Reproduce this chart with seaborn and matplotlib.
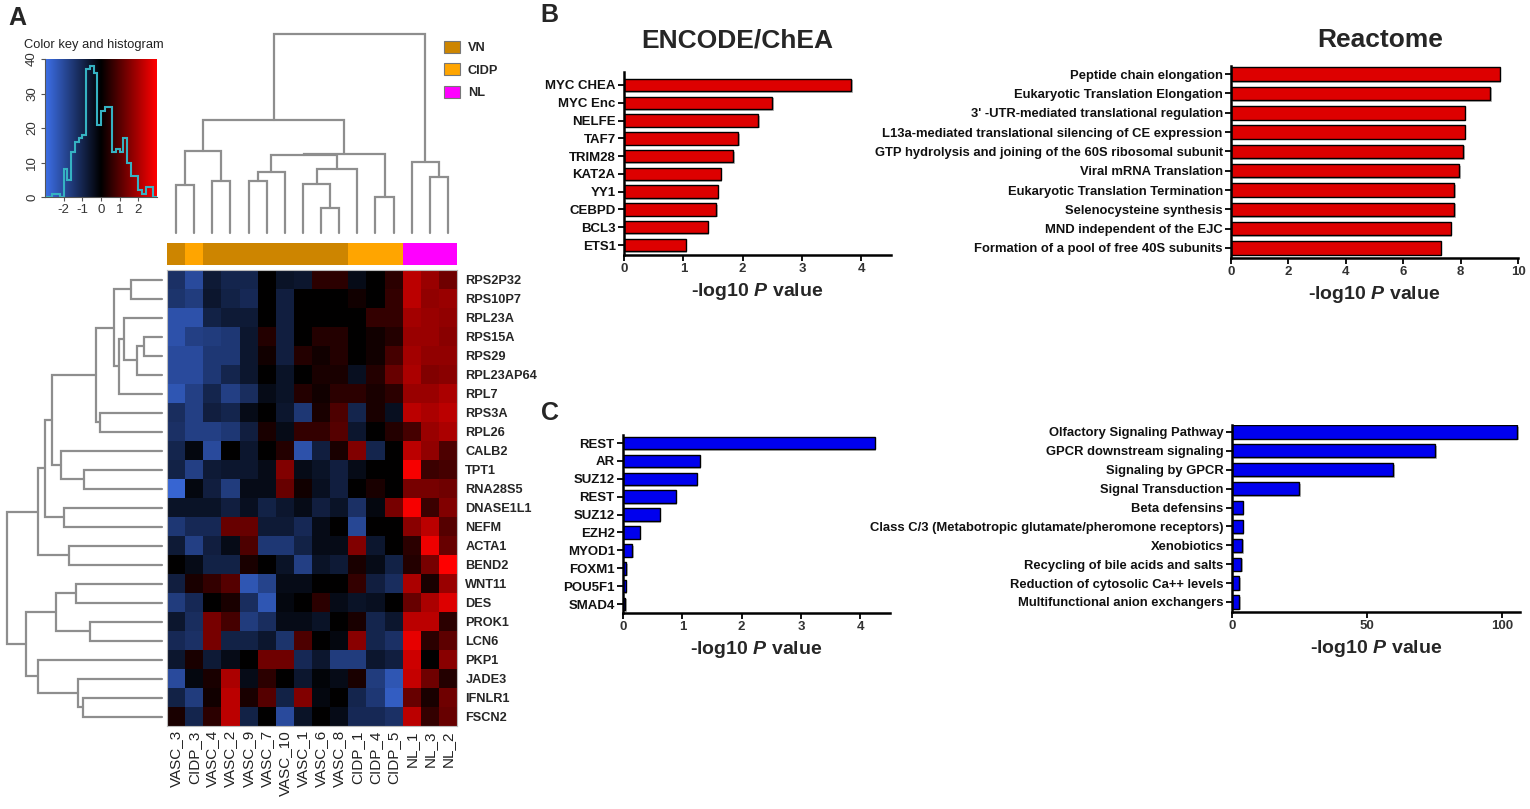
import numpy as np
import pandas as pd
import matplotlib
matplotlib.use("Agg")
import matplotlib.pyplot as plt
import matplotlib.patheffects as pe
from matplotlib.colors import LinearSegmentedColormap, ListedColormap
from matplotlib.patches import Patch
import seaborn as sns

# ---------------- data ----------------
genes = ["RPS2P32", "RPS10P7", "RPL23A", "RPS15A", "RPS29", "RPL23AP64", "RPL7",
         "RPS3A", "RPL26", "CALB2", "TPT1", "RNA28S5", "DNASE1L1", "NEFM", "ACTA1",
         "BEND2", "WNT11", "DES", "PROK1", "LCN6", "PKP1", "JADE3", "IFNLR1", "FSCN2"]
samples = ["VASC_3", "CIDP_3", "VASC_4", "VASC_2", "VASC_9", "VASC_7", "VASC_10",
           "VASC_1", "VASC_6", "VASC_8", "CIDP_1", "CIDP_4", "CIDP_5", "NL_1", "NL_3", "NL_2"]
sample_groups = ["VN", "CIDP", "VN", "VN", "VN", "VN", "VN", "VN", "VN", "VN",
                 "CIDP", "CIDP", "CIDP", "NL", "NL", "NL"]
group_names = ["VN", "CIDP", "NL"]
group_colors = ["#CD8500", "#FFA500", "#FF00FF"]

expr = [
    [-1.3, -2.0, -0.7, -1.0, -1.0, 0.0, -0.5, -0.6, 0.5, 0.5, -0.3, 0.0, 0.5, 2.2, 1.8, 1.3],
    [-1.4, -1.6, -0.6, -0.9, -1.1, 0.0, -0.8, 0.0, 0.0, 0.0, 0.2, 0.0, 0.6, 2.2, 1.7, 1.8],
    [-2.2, -2.2, -0.9, -0.7, -0.7, 0.0, -0.8, 0.0, 0.0, 0.0, 0.0, 0.6, 0.6, 1.9, 1.8, 1.7],
    [-2.2, -1.7, -1.6, -1.5, -0.6, 0.4, -0.8, 0.0, 0.4, 0.4, 0.0, 0.2, 0.4, 1.8, 1.8, 1.6],
    [-2.0, -2.0, -1.5, -1.5, -0.6, 0.2, -0.8, 0.4, 0.2, 0.4, 0.0, 0.2, 0.8, 1.9, 1.7, 1.7],
    [-2.0, -2.0, -1.5, -1.0, -0.6, 0.0, -0.5, 0.0, 0.3, 0.3, -0.4, 0.4, 1.2, 2.0, 1.5, 1.6],
    [-2.3, -1.7, -1.0, -1.7, -1.2, -0.3, -0.5, 0.4, 0.2, 0.5, 0.5, 0.3, 0.5, 1.8, 1.8, 2.0],
    [-1.2, -1.7, -0.8, -1.0, -0.3, 0.0, -0.6, -1.5, 0.3, 0.9, -1.0, 0.3, -0.4, 2.2, 2.0, 2.2],
    [-1.3, -1.7, -1.7, -1.5, -0.8, 0.3, -0.3, 0.6, 0.6, 1.0, -0.6, 0.0, 0.4, 0.8, 1.8, 2.0],
    [-1.0, -0.2, -2.0, 0.0, -0.6, 0.0, 0.4, -2.2, -0.8, 0.3, 1.5, -1.0, 0.0, 2.2, 1.7, 0.9],
    [-0.9, -1.7, -0.7, -0.6, -0.6, -0.3, 1.5, -0.3, -0.5, -0.8, -0.3, 0.0, 0.0, 2.9, 0.7, 0.8],
    [-2.7, -0.2, -0.8, -1.6, -0.3, -0.3, 1.2, 0.2, -0.4, -0.8, 0.0, 0.3, 0.0, 1.4, 1.4, 1.3],
    [-0.5, -0.5, -0.5, -0.8, -0.4, -0.9, -0.6, -0.3, -0.8, -0.5, -1.3, -0.2, 1.4, 2.9, 0.7, 1.5],
    [-1.5, -1.1, -1.1, 1.2, 1.2, -0.7, -0.7, -1.1, -0.3, 0.0, -1.9, 0.0, 0.0, 1.6, 2.2, 1.0],
    [-0.7, -1.7, -0.8, -0.3, 0.9, -1.5, -1.5, -0.9, -0.3, -0.3, 1.5, -0.6, 0.0, 0.5, 2.8, 1.2],
    [0.0, -0.3, -0.9, -0.9, 0.3, 0.0, -0.5, -1.7, -0.5, -0.7, 0.3, -0.3, -0.9, 0.4, 1.4, 3.0],
    [-0.8, 0.3, 0.6, 1.0, -2.3, -1.8, -0.3, -0.3, 0.0, 0.0, 0.6, -0.8, -1.2, 2.0, 0.3, 1.8],
    [-1.6, -1.1, 0.0, 0.3, -1.2, -2.3, -0.2, 0.0, 0.5, -0.3, -0.5, -0.4, 0.0, 1.2, 2.0, 2.6],
    [-0.6, -1.2, 1.4, 0.8, -1.6, -1.2, -0.3, -0.3, -0.5, 0.0, 0.3, -1.0, -0.6, 2.2, 2.2, 0.5],
    [-1.1, -1.3, 1.4, -0.9, -0.9, -0.6, -1.4, 0.9, 0.0, -0.2, 1.6, -1.0, -1.3, 2.7, 0.5, 1.1],
    [-0.6, 0.3, -0.7, -0.3, 0.0, 1.3, 1.3, -1.1, -0.6, -1.6, -1.6, -0.6, -0.8, 2.4, 0.0, 1.6],
    [-2.0, -0.2, 0.3, 2.0, -0.3, 0.5, 0.0, -0.6, -0.1, -0.3, 0.3, -1.6, -2.3, 2.3, 1.3, 0.4],
    [-0.9, -1.6, 0.2, 2.2, 0.3, 1.0, -0.9, 1.5, -0.2, 0.0, -1.0, -1.5, -2.5, 1.2, 0.3, 1.3],
    [0.3, -1.0, 0.5, 2.2, -0.9, 0.0, -2.0, -0.5, 0.0, -0.3, -1.1, -1.1, -1.3, 2.2, 0.6, 1.2],
]

# colour-key histogram (bin edges -3..3 step 0.2)
hist_edges = [-3.0, -2.8, -2.6, -2.4, -2.2, -2.0, -1.8, -1.6, -1.4, -1.2, -1.0, -0.8, -0.6,
              -0.4, -0.2, 0.0, 0.2, 0.4, 0.6, 0.8, 1.0, 1.2, 1.4, 1.6, 1.8, 2.0, 2.2, 2.4,
              2.6, 2.8, 3.0]
hist_counts = [0, 0, 1, 1, 0, 8, 5, 13, 16, 17, 18, 37, 38, 36, 21, 25, 26, 26, 13, 14,
               13, 17, 10, 6, 6, 2, 1, 3, 3, 0]

# dendrogram merges: (node a, node b, height); new nodes numbered after leaves
col_merges = [(0, 1, 145), (2, 3, 155), (16, 17, 247), (4, 5, 155), (19, 6, 183),
              (8, 9, 75), (7, 21, 147), (22, 10, 193), (20, 23, 235), (11, 12, 108),
              (24, 25, 238), (18, 26, 340), (14, 15, 168), (13, 28, 213), (27, 29, 598)]
row_merges = [(0, 1, 93), (3, 4, 53), (25, 5, 75), (2, 26, 113), (27, 6, 130),
              (24, 28, 145), (7, 8, 185), (29, 30, 197), (10, 11, 235), (9, 32, 302),
              (31, 33, 330), (12, 13, 293), (34, 35, 350), (14, 15, 280), (36, 37, 372),
              (16, 17, 257), (18, 19, 217), (39, 40, 317), (22, 23, 237), (21, 42, 252),
              (20, 43, 372), (41, 44, 407), (38, 45, 465)]

encode_up_terms = ["MYC CHEA", "MYC Enc", "NELFE", "TAF7", "TRIM28", "KAT2A", "YY1",
                   "CEBPD", "BCL3", "ETS1"]
encode_up_vals = [3.83, 2.50, 2.26, 1.92, 1.84, 1.63, 1.58, 1.55, 1.41, 1.04]
reactome_up_terms = ["Peptide chain elongation", "Eukaryotic Translation Elongation",
                     "3' -UTR-mediated translational regulation",
                     "L13a-mediated translational silencing of CE expression",
                     "GTP hydrolysis and joining of the 60S ribosomal subunit",
                     "Viral mRNA Translation", "Eukaryotic Translation Termination",
                     "Selenocysteine synthesis", "MND independent of the EJC",
                     "Formation of a pool of free 40S subunits"]
reactome_up_vals = [9.36, 9.04, 8.14, 8.14, 8.09, 7.95, 7.77, 7.77, 7.65, 7.30]
encode_dn_terms = ["REST", "AR", "SUZ12", "REST", "SUZ12", "EZH2", "MYOD1", "FOXM1",
                   "POU5F1", "SMAD4"]
encode_dn_vals = [4.24, 1.29, 1.24, 0.89, 0.62, 0.28, 0.16, 0.05, 0.045, 0.04]
reactome_dn_terms = ["Olfactory Signaling Pathway", "GPCR downstream signaling",
                     "Signaling by GPCR", "Signal Transduction", "Beta defensins",
                     "Class C/3 (Metabotropic glutamate/pheromone receptors)",
                     "Xenobiotics", "Recycling of bile acids and salts",
                     "Reduction of cytosolic Ca++ levels", "Multifunctional anion exchangers"]
reactome_dn_vals = [105.5, 75.2, 59.5, 24.8, 4.0, 3.9, 3.7, 3.5, 2.7, 2.6]

# ---------------- style ----------------
W, H = 1530, 809
sns.set_theme(style="white")
plt.rcParams["font.family"] = ["Liberation Sans", "DejaVu Sans"]
plt.rcParams["axes.unicode_minus"] = False
plt.rcParams["mathtext.fontset"] = "custom"
plt.rcParams["mathtext.rm"] = "Liberation Sans:bold"
plt.rcParams["mathtext.it"] = "Liberation Sans:bold:italic"

fig = plt.figure(figsize=(W / 100, H / 100), dpi=100)
fig.patch.set_facecolor("white")


def ax_px(l, t, r, b):
    return fig.add_axes([l / W, 1 - b / H, (r - l) / W, (b - t) / H])


cmap = LinearSegmentedColormap.from_list("bkr", ["#3D6FE8", "#000000", "#FF0000"])
dgray = "#8e8e8e"


def draw_dendro(ax, merges, n, orient):
    pos = {i: i + 0.5 for i in range(n)}
    hgt = {i: 0.0 for i in range(n)}
    for k, (a, b, h) in enumerate(merges):
        xa, xb, ha, hb = pos[a], pos[b], hgt[a], hgt[b]
        if orient == "top":
            ax.plot([xa, xa, xb, xb], [ha, h, h, hb], color=dgray, lw=1.6,
                    solid_joinstyle="miter", clip_on=False)
        else:
            ax.plot([ha, h, h, hb], [xa, xa, xb, xb], color=dgray, lw=1.6,
                    solid_joinstyle="miter", clip_on=False)
        pos[n + k] = (xa + xb) / 2
        hgt[n + k] = h
    ax.axis("off")


# ---------------- panel A ----------------
# heatmap
df = pd.DataFrame(expr, index=genes, columns=samples)
axh = ax_px(167, 270, 457, 726)
sns.heatmap(df, ax=axh, cmap=cmap, vmin=-3, vmax=3, cbar=False,
            xticklabels=True, yticklabels=True)
axh.yaxis.tick_right()
axh.tick_params(axis="y", length=0, pad=6, labelsize=9.2, rotation=0)
axh.tick_params(axis="x", length=0, pad=3, labelsize=11, rotation=90, labelcolor="#222222")
for t in axh.get_yticklabels():
    t.set_fontweight("bold")
for sp in axh.spines.values():
    sp.set_visible(True)
    sp.set_color("#bbbbbb")
    sp.set_linewidth(0.8)

# column group colour bar
code = [[group_names.index(g) for g in sample_groups]]
axc = ax_px(167, 243, 457, 265)
sns.heatmap(pd.DataFrame(code, columns=samples), ax=axc, cmap=ListedColormap(group_colors),
            vmin=-0.5, vmax=2.5, cbar=False, xticklabels=False, yticklabels=False)

# dendrograms
axd = ax_px(167, 34, 457, 233)
axd.set_xlim(0, 16)
axd.set_ylim(0, 598)
draw_dendro(axd, col_merges, 16, "top")

axr = ax_px(7, 270, 162, 726)
axr.set_xlim(465, 0)
axr.set_ylim(24, 0)
draw_dendro(axr, row_merges, 24, "left")

# legend
handles = [Patch(facecolor=c, edgecolor="#777777", linewidth=0.8) for c in group_colors]
leg = fig.legend(handles, group_names, loc="upper left", bbox_to_anchor=(444 / W, 1 - 41 / H),
                 frameon=False, handlelength=1.25, handleheight=1.05, labelspacing=0.72,
                 handletextpad=0.6, borderaxespad=0, borderpad=0,
                 prop={"weight": "bold", "size": 9.2})

# colour key
axk = ax_px(45, 59, 157, 197)
grad = np.linspace(-3, 3, 256)[None, :]
axk.imshow(grad, extent=(-3, 3, 0, 40), aspect="auto", cmap=cmap, vmin=-3, vmax=3,
           origin="lower", zorder=0)
axk.stairs(hist_counts, hist_edges, color="#35B2C2", lw=1.5, zorder=2)
axk.set_xlim(-3, 3)
axk.set_ylim(0, 40)
axk.set_xticks([-2, -1, 0, 1, 2])
axk.set_yticks([0, 10, 20, 30, 40])
axk.tick_params(axis="both", length=3, width=0.8, color="#555555", labelsize=9.5,
                labelcolor="#333333", pad=2, left=True, bottom=True)
for t in axk.get_yticklabels():
    t.set_rotation(90)
    t.set_va("center")
for s in ["top", "right"]:
    axk.spines[s].set_visible(False)
for s in ["left", "bottom"]:
    axk.spines[s].set_color("#555555")
    axk.spines[s].set_linewidth(0.8)
fig.text(24 / W, 1 - 45 / H, "Color key and histogram", fontsize=9.3, va="center",
         ha="left", color="#222222")


# ---------------- bar panels ----------------
def bar_panel(box, terms, vals, color, xmax, xticks, ylims, labelsize=9.5):
    ax = ax_px(*box)
    keys = [f"{i}" for i in range(len(terms))]
    d = pd.DataFrame({"term": keys, "val": vals})
    sns.barplot(data=d, x="val", y="term", order=keys, orient="h", color=color,
                saturation=1, width=0.7, edgecolor="black", linewidth=1.0, ax=ax)
    for p in ax.patches:
        p.set_path_effects([pe.SimplePatchShadow(offset=(1.2, -1.2), shadow_rgbFace="#888888",
                                                 alpha=0.6), pe.Normal()])
    ax.set_yticks(range(len(terms)))
    ax.set_yticklabels(terms, fontsize=labelsize, fontweight="bold", color="#111111")
    ax.set_xlim(0, xmax)
    ax.set_ylim(*ylims)
    ax.set_xticks(xticks)
    ax.set_xticklabels([str(x) for x in xticks], fontsize=9.5, fontweight="bold",
                       color="#333333")
    ax.set_xlabel("-log10 $\\mathit{P}$ value", fontsize=14, fontweight="bold", labelpad=4)
    ax.set_ylabel("")
    for s in ["top", "right"]:
        ax.spines[s].set_visible(False)
    for s in ["left", "bottom"]:
        ax.spines[s].set_color("black")
        ax.spines[s].set_linewidth(1.8)
    ax.tick_params(axis="both", which="major", direction="out", length=4, width=1.3,
                   color="black", left=True, bottom=True)
    ax.tick_params(axis="y", pad=2)
    ax.tick_params(axis="x", pad=2)
    ax.set_facecolor("white")
    ax.grid(False)
    return ax


red = "#DD0000"
blue = "#0000EE"
ax1 = bar_panel((624, 72, 891, 255), encode_up_terms, encode_up_vals, red, 4.5,
                [0, 1, 2, 3, 4], (9.56, -0.73))
ax2 = bar_panel((1231, 66, 1518, 258), reactome_up_terms, reactome_up_vals, red, 10,
                [0, 2, 4, 6, 8, 10], (9.52, -0.42), labelsize=9.4)
ax3 = bar_panel((623, 435, 890, 613), encode_dn_terms, encode_dn_vals, blue, 4.5,
                [0, 1, 2, 3, 4], (9.5, -0.45))
ax4 = bar_panel((1232, 425, 1520, 612), reactome_dn_terms, reactome_dn_vals, blue, 106.5,
                [0, 50, 100], (9.53, -0.37), labelsize=9.4)

fig.text(737 / W, 1 - 40 / H, "ENCODE/ChEA", fontsize=19, fontweight="bold",
         ha="center", va="center")
fig.text(1380 / W, 1 - 40 / H, "Reactome", fontsize=19, fontweight="bold",
         ha="center", va="center")

# panel letters
fig.text(8 / W, 1 - 18 / H, "A", fontsize=18, fontweight="bold", ha="left", va="center")
fig.text(540 / W, 1 - 15 / H, "B", fontsize=18, fontweight="bold", ha="left", va="center")
fig.text(541 / W, 1 - 413 / H, "C", fontsize=18, fontweight="bold", ha="left", va="center")

fig.savefig("out.png", dpi=100, facecolor="white")
